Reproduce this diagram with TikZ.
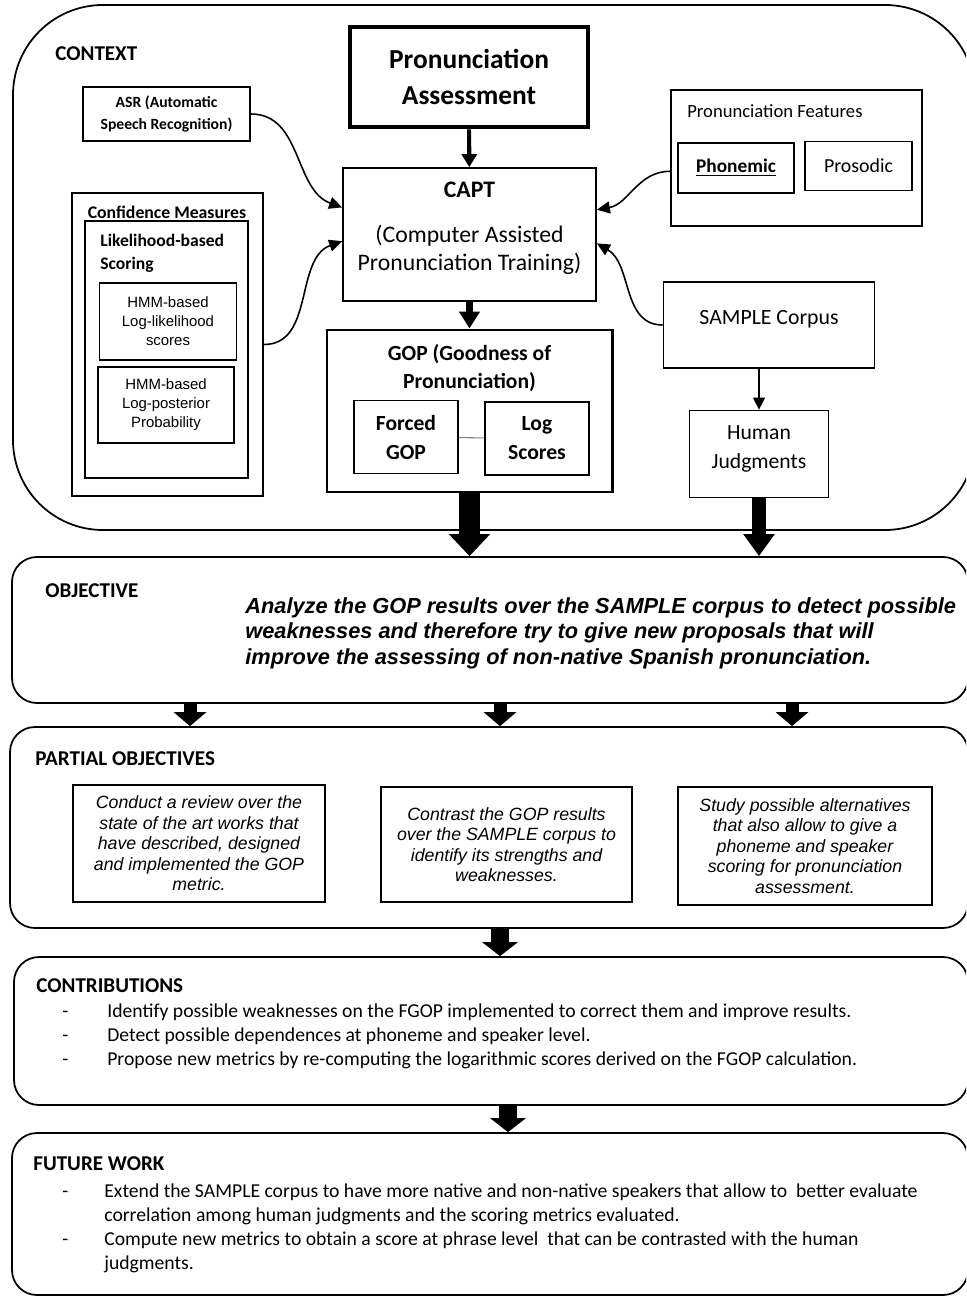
\documentclass[tikz,border=0pt]{standalone}
\usepackage{fontspec}
\setmainfont{Carlito}
\newfontfamily\arialfont{Liberation Sans}
\usetikzlibrary{arrows.meta}

\begin{document}
\begin{tikzpicture}[x=0.02cm, y=-0.02cm,
    box/.style={draw, line width=1pt, inner sep=0pt, align=center},
    wh/.style 2 args={minimum width=#1*0.02cm, minimum height=#2*0.02cm},
    frame/.style={draw, line width=1pt, inner sep=0pt, rounded corners=0.5cm},
    sechead/.style={anchor=west, inner sep=0pt, font=\fontsize{12}{14}\selectfont\bfseries},
    hmmtxt/.style={font=\arialfont\fontsize{8.5}{10.8}\selectfont},
    potxt/.style={font=\arialfont\itshape\fontsize{10.1}{11.7}\selectfont},
    listtxt/.style={anchor=west, inner sep=0pt, align=left, font=\fontsize{11.2}{13.7}\selectfont},
    arr/.style n args={3}{line width=#1, -{Triangle[width=#2, length=#3]}},
    curvearrow/.style={line width=0.9pt, -{Triangle[width=0.24cm, length=0.26cm]}}
]
    \def\itm{\makebox[25.6pt][l]{-}}    % dash + indent, contributions
    \def\itmf{\makebox[23.9pt][l]{-}}   % dash + indent, future work
    \useasboundingbox (0,0) rectangle (966,1297);
    \clip (0,0) rectangle (966,1297);

    % ---------- CONTEXT ----------
    \node[frame, rounded corners=1.8cm, wh={962}{525}] (context) at (494,267.5) {};
    \node[sechead] (contextlbl) at (55,54) {CONTEXT};

    \node[box, line width=2.6pt, wh={238}{100}, font=\fontsize{15.6}{20.5}\selectfont\bfseries] (pa) at (469,77) {Pronunciation\\Assessment};

    \node[box, wh={253}{133}] (capt) at (469.5,234.5) {};
    \node[font=\fontsize{13.5}{16}\selectfont\bfseries] (capttitle) at (469.5,190) {CAPT};
    \node[align=center, font=\fontsize{13.5}{16}\selectfont] (captsub) at (469.5,250) {(Computer Assisted\\Pronunciation Training)};

    \node[box, line width=1.7pt, wh={285}{162}] (gop) at (469.5,411) {};
    \node[align=center, font=\fontsize{12.3}{16}\selectfont\bfseries] (goptitle) at (469.5,368) {GOP (Goodness of\\Pronunciation)};
    \node[box, wh={104}{73}, font=\fontsize{12.3}{16.5}\selectfont\bfseries] (forced) at (406,437) {Forced\\GOP};
    \node[box, wh={104}{73}, font=\fontsize{12.3}{16.5}\selectfont\bfseries] (logs) at (537,438.5) {Log\\Scores};
    \draw[gray, line width=0.6pt] (forced) -- (logs);

    % left side
    \node[box, wh={167}{54}, font=\fontsize{8.9}{12}\selectfont\bfseries] (asr) at (166.5,114) {ASR (Automatic\\Speech Recognition)};
    \node[box, wh={191}{303}] (conf) at (167.5,344.5) {};
    \node[inner sep=0pt, font=\fontsize{10.1}{12}\selectfont\bfseries] (conflbl) at (167,212) {Confidence Measures};
    \node[box, wh={163}{257}] (likeli) at (166.5,349.5) {};
    \node[anchor=west, align=left, inner sep=0pt, font=\fontsize{10}{13.1}\selectfont\bfseries] (likelilbl) at (100,253) {Likelihood-based\\Scoring};
    \node[box, wh={137}{77}, hmmtxt] (hmmll) at (168,321.5) {HMM-based\\Log-likelihood\\scores};
    \node[box, wh={136}{76}, hmmtxt] (hmmlp) at (166,405) {HMM-based\\Log-posterior\\Probability};

    % right side
    \node[box, wh={251}{136}] (pf) at (796.5,158) {};
    \node[anchor=west, inner sep=0pt, font=\fontsize{10.6}{12}\selectfont] (pflbl) at (687,111) {Pronunciation Features};
    \node[box, wh={116}{50}, font=\fontsize{11}{13}\selectfont\bfseries] (phon) at (736,168) {\underline{Phonemic}};
    \node[box, wh={107}{49}, font=\fontsize{11.3}{13}\selectfont] (pros) at (858.5,166) {Prosodic};
    \node[box, wh={211}{86}] (sample) at (769,325) {};
    \node[font=\fontsize{12.4}{15}\selectfont] (samplelbl) at (769,319) {SAMPLE Corpus};
    \node[box, wh={139}{87}] (human) at (759,454) {};
    \node[align=center, font=\fontsize{12.3}{16.5}\selectfont] (humanlbl) at (759,449) {Human\\Judgments};

    % connectors
    \draw[arr={2.3pt}{0.3cm}{0.26cm}] (pa) -- (capt);
    \draw[arr={4pt}{0.4cm}{0.34cm}] (capt) -- (gop);
    \draw[arr={0.8pt}{0.24cm}{0.24cm}] (human.north |- sample.south) -- (human.north);
    \draw[curvearrow] (asr.east) to[out=0, in=160] (capt.168);
    \draw[curvearrow] (conf.east) to[out=0, in=200] (capt.183);
    \draw[curvearrow] (pf.186) to[out=180, in=10] (capt.11);
    \draw[curvearrow] (sample.west) to[out=180, in=-30] (capt.356);

    % ---------- OBJECTIVE ----------
    \node[frame, wh={956}{146}] (obj) at (490,630) {};
    \draw[arr={11.4pt}{0.8cm}{0.44cm}] (gop.south) -- (gop.south |- obj.north);
    \draw[arr={8.5pt}{0.6cm}{0.44cm}] (human.south) -- (human.south |- obj.north);
    \node[sechead] (objlbl) at (45,591) {OBJECTIVE};
    \node[anchor=west, align=left, inner sep=0pt, font=\arialfont\bfseries\itshape\fontsize{12.4}{14.5}\selectfont] (objtxt) at (245,633)
        {Analyze the GOP results over the SAMPLE corpus to detect possible\\weaknesses and therefore try to give new proposals that will\\improve the assessing of non-native Spanish pronunciation.};

    % ---------- PARTIAL OBJECTIVES ----------
    \node[frame, wh={958}{201}] (part) at (489,827.5) {};
    \foreach \ax in {190,500,792}
        \draw[arr={7.4pt}{0.64cm}{0.28cm}] (obj.south -| \ax,0) -- (part.north -| \ax,0);
    \node[sechead] (partlbl) at (35,759) {PARTIAL OBJECTIVES};
    \foreach \cx/\cy/\w/\h/\txt [count=\i] in {
        199/843.5/252/117/{Conduct a review over the\\state of the art works that\\have described, designed\\and implemented the GOP\\metric.},
        506.5/844.5/251/115/{Contrast the GOP results\\over the SAMPLE corpus to\\identify its strengths and\\weaknesses.},
        805/846/254/118/{Study possible alternatives\\that also allow to give a\\phoneme and speaker\\scoring for pronunciation\\assessment.}}
        \node[box, potxt, wh={\w}{\h}] (po\i) at (\cx,\cy) {\txt};

    % ---------- CONTRIBUTIONS ----------
    \node[frame, wh={954}{148}] (contrib) at (491,1031) {};
    \draw[arr={9.7pt}{0.7cm}{0.28cm}] (part.south -| 500,0) -- (contrib.north -| 500,0);
    \node[sechead] (contriblbl) at (36,986) {CONTRIBUTIONS};
    \node[listtxt] (contribtxt) at (62,1036)
        {\itm Identify possible weaknesses on the FGOP implemented to correct them and improve results.\\
         \itm Detect possible dependences at phoneme and speaker level.\\
         \itm Propose new metrics by re-computing the logarithmic scores derived on the FGOP calculation.};

    % ---------- FUTURE WORK ----------
    \node[frame, wh={956}{162}] (future) at (490,1214) {};
    \draw[arr={9.7pt}{0.7cm}{0.28cm}] (contrib.south -| 508,0) -- (future.north -| 508,0);
    \node[sechead] (futurelbl) at (33,1164) {FUTURE WORK};
    \node[listtxt] (futuretxt) at (62,1228)
        {\itmf Extend the SAMPLE corpus to have more native and non-native speakers that allow to\ \ better evaluate\\
         \hspace*{23.9pt}correlation among human judgments and the scoring metrics evaluated.\\
         \itmf Compute new metrics to obtain a score at phrase level\ \ that can be contrasted with the human\\
         \hspace*{23.9pt}judgments.};
\end{tikzpicture}
\end{document}
